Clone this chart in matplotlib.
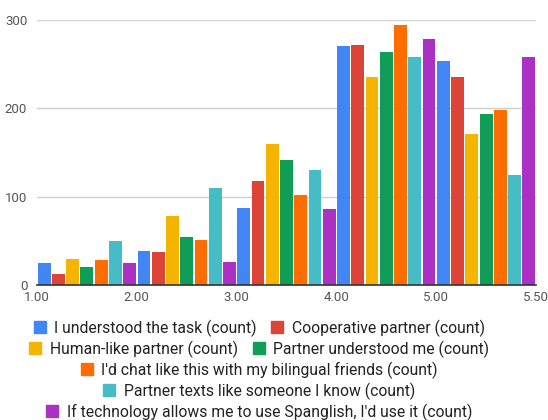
import numpy as np
import matplotlib
matplotlib.use("Agg")
from matplotlib import pyplot as plt
from matplotlib.lines import Line2D

# Histogram buckets (score ranges) and counts per survey question
bucket_edges = ["1.00", "2.00", "3.00", "4.00", "5.00", "5.50"]
series_names = [
    "I understood the task (count)",
    "Cooperative partner (count)",
    "Human-like partner (count)",
    "Partner understood me (count)",
    "I'd chat like this with my bilingual friends (count)",
    "Partner texts like someone I know (count)",
    "If technology allows me to use Spanglish, I'd use it (count)",
]
colors = ["#4285F4", "#DB4437", "#F4B400", "#0F9D58", "#FF6D00", "#46BDC6", "#AB30C4"]

understood_task = [25, 38, 87, 270, 254]
cooperative = [12, 37, 118, 272, 235]
human_like = [30, 78, 160, 235, 171]
partner_understood = [20, 54, 141, 264, 194]
chat_friends = [28, 51, 102, 294, 198]
texts_like_known = [50, 110, 130, 258, 125]
use_spanglish = [25, 26, 86, 278, 258]

counts = [understood_task, cooperative, human_like, partner_understood,
          chat_friends, texts_like_known, use_spanglish]

plt.rcParams["font.family"] = ["Roboto", "DejaVu Sans"]

fig = plt.figure(figsize=(5.48, 4.20), dpi=100)
ax = fig.add_axes([37 / 548, 135 / 420, 499 / 548, 265 / 420])

n = len(counts)
slot = 1.0 / n
groups = np.arange(len(bucket_edges) - 1)
for j, (vals, c) in enumerate(zip(counts, colors)):
    ax.bar(groups + (j + 0.5) * slot, vals, width=slot * 0.9, color=c,
           zorder=3, linewidth=0)

ax.set_xlim(0, len(bucket_edges) - 1)
ax.set_ylim(0, 300)
ax.set_yticks([0, 100, 200, 300])
ax.set_xticks(np.arange(len(bucket_edges)))
ax.set_xticklabels(bucket_edges)
ax.tick_params(axis="both", length=0, labelsize=9.5, labelcolor="#555555")
ax.tick_params(axis="y", pad=7)
ax.tick_params(axis="x", pad=4)
ax.grid(axis="y", color="#d0d0d0", linewidth=1, zorder=0)
for s in ["top", "right", "left"]:
    ax.spines[s].set_visible(False)
ax.spines["bottom"].set_color("#333333")
ax.spines["bottom"].set_linewidth(1.2)
ax.spines["bottom"].set_zorder(4)

# Legend wrapped over several centered rows
rows = [[0, 1], [2, 3], [4], [5], [6]]
row_y = [328, 349, 370, 391, 412]
for idx, y in zip(rows, row_y):
    handles = [Line2D([], [], marker="s", linestyle="none", markersize=8.5,
                      color=colors[i]) for i in idx]
    leg = fig.legend(handles, [series_names[i] for i in idx], ncol=len(idx),
                     loc="center", bbox_to_anchor=(259 / 548, 1 - y / 420),
                     frameon=False, fontsize=11.3, handlelength=0.8,
                     handletextpad=0.5, columnspacing=0.95, borderpad=0,
                     labelcolor="#222222")

fig.savefig("out.png", dpi=100)
